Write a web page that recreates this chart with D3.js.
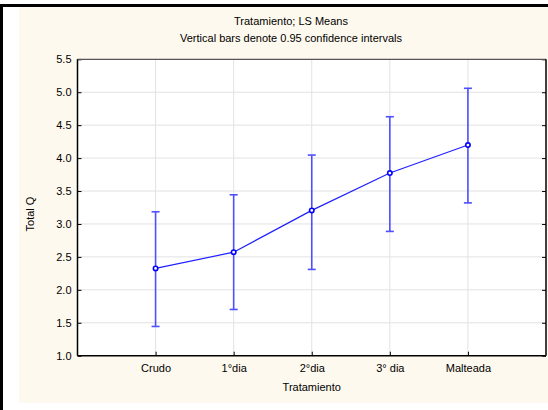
<!DOCTYPE html>
<html><head><meta charset="utf-8">
<script src="https://cdn.jsdelivr.net/npm/d3@7"></script>
<style>body{margin:0;background:#fff}svg{display:block}text{font-family:"Liberation Sans",Arial,sans-serif;fill:#000}</style>
</head><body>
<script>
const categories = ["Crudo", "1°dia", "2°dia", "3° dia", "Malteada"];
const means = [2.325, 2.572, 3.206, 3.773, 4.198];
const upper = [3.185, 3.443, 4.046, 4.628, 5.06];
const lower = [1.444, 1.702, 2.31, 2.887, 3.32];
const yTicks = [1.0, 1.5, 2.0, 2.5, 3.0, 3.5, 4.0, 4.5, 5.0, 5.5];
const title1 = "Tratamiento; LS Means";
const title2 = "Vertical bars denote 0.95 confidence intervals";
const xLabel = "Tratamiento";
const yLabel = "Total Q";

const W = 548, H = 410;
const svg = d3.select("body").append("svg").attr("width", W).attr("height", H);

// frame
svg.append("rect").attr("x",0).attr("y",0).attr("width",W).attr("height",H).attr("fill","#fff");
svg.append("rect").attr("x",19).attr("y",7).attr("width",W-19).attr("height",396).attr("fill","#fef9ee");
svg.append("rect").attr("x",0).attr("y",4).attr("width",W).attr("height",3).attr("fill","#000");
svg.append("rect").attr("x",0).attr("y",4).attr("width",3).attr("height",H-4).attr("fill","#000");

const L = 77.5, R = 546, T = 59.3, B = 355.7;
const x = d3.scaleLinear().domain([0, categories.length + 1]).range([L, R]);
const y = d3.scaleLinear().domain([1, 5.5]).range([B, T]);

svg.append("rect").attr("x",L).attr("y",T).attr("width",R-L).attr("height",B-T).attr("fill","#fff");

// grid
const g = svg.append("g");
g.selectAll(".hg").data(yTicks.slice(1, -1)).enter().append("line")
  .attr("x1",L).attr("x2",R).attr("y1",d=>y(d)).attr("y2",d=>y(d))
  .attr("stroke","#e2e2e2").attr("stroke-width",1);
g.selectAll(".vg").data(categories).enter().append("line")
  .attr("x1",(d,i)=>x(i+1)).attr("x2",(d,i)=>x(i+1)).attr("y1",T).attr("y2",B)
  .attr("stroke","#e2e2e2").attr("stroke-width",1);

// axes
const yAxis = d3.axisLeft(y).tickValues(yTicks).tickFormat(d3.format(".1f")).tickSizeInner(-4).tickSizeOuter(0).tickPadding(6);
const ya = svg.append("g").attr("transform",`translate(${L},0)`).call(yAxis);
ya.select(".domain").remove();
ya.selectAll("line").attr("stroke","#000");
ya.selectAll("text").style("font-size","11px").style("font-family","'Liberation Sans',Arial,sans-serif");

const yAxisR = d3.axisRight(y).tickValues(yTicks).tickFormat("").tickSizeInner(-4).tickSizeOuter(0);
const yr = svg.append("g").attr("transform",`translate(${R},0)`).call(yAxisR);
yr.select(".domain").remove();
yr.selectAll("line").attr("stroke","#000");

const xAxis = d3.axisBottom(x).tickValues(categories.map((d,i)=>i+1)).tickFormat(d=>categories[d-1]).tickSizeInner(-4).tickSizeOuter(0).tickPadding(9);
const xa = svg.append("g").attr("transform",`translate(0,${B})`).call(xAxis);
xa.select(".domain").remove();
xa.selectAll("line").attr("stroke","#000");
xa.selectAll("text").style("font-size","11px").style("font-family","'Liberation Sans',Arial,sans-serif");

// plot border
svg.append("line").attr("x1",L).attr("x2",R).attr("y1",T).attr("y2",T).attr("stroke","#555").attr("stroke-width",1.2);
svg.append("line").attr("x1",R).attr("x2",R).attr("y1",T).attr("y2",B).attr("stroke","#000").attr("stroke-width",1.5);
svg.append("line").attr("x1",L).attr("x2",L).attr("y1",T).attr("y2",B).attr("stroke","#000").attr("stroke-width",1.5);
svg.append("line").attr("x1",L).attr("x2",R).attr("y1",B).attr("y2",B).attr("stroke","#000").attr("stroke-width",1.5);

// error bars
const eb = svg.append("g").attr("stroke","#4f4fff").attr("stroke-width",1.6);
categories.forEach((c,i)=>{
  const cx = x(i+1);
  eb.append("line").attr("x1",cx).attr("x2",cx).attr("y1",y(upper[i])).attr("y2",y(lower[i]));
  eb.append("line").attr("x1",cx-4).attr("x2",cx+4).attr("y1",y(upper[i])).attr("y2",y(upper[i]));
  eb.append("line").attr("x1",cx-4).attr("x2",cx+4).attr("y1",y(lower[i])).attr("y2",y(lower[i]));
});

// line
const line = d3.line().x((d,i)=>x(i+1)).y(d=>y(d));
svg.append("path").datum(means).attr("d",line).attr("fill","none").attr("stroke","#2020ff").attr("stroke-width",1.2);
svg.selectAll(".pt").data(means).enter().append("circle")
  .attr("cx",(d,i)=>x(i+1)).attr("cy",d=>y(d)).attr("r",2.2)
  .attr("fill","#fff").attr("stroke","#0000ff").attr("stroke-width",1.6);

// titles
svg.append("text").attr("x",291).attr("y",25).attr("text-anchor","middle").style("font-size","11px").text(title1);
svg.append("text").attr("x",291).attr("y",42).attr("text-anchor","middle").style("font-size","11px").text(title2);
svg.append("text").attr("x",(L+R)/2).attr("y",391).attr("text-anchor","middle").style("font-size","11px").text(xLabel);
svg.append("text").attr("transform",`translate(34,214) rotate(-90)`).attr("text-anchor","middle").style("font-size","11px").text(yLabel);
</script>
</body></html>
